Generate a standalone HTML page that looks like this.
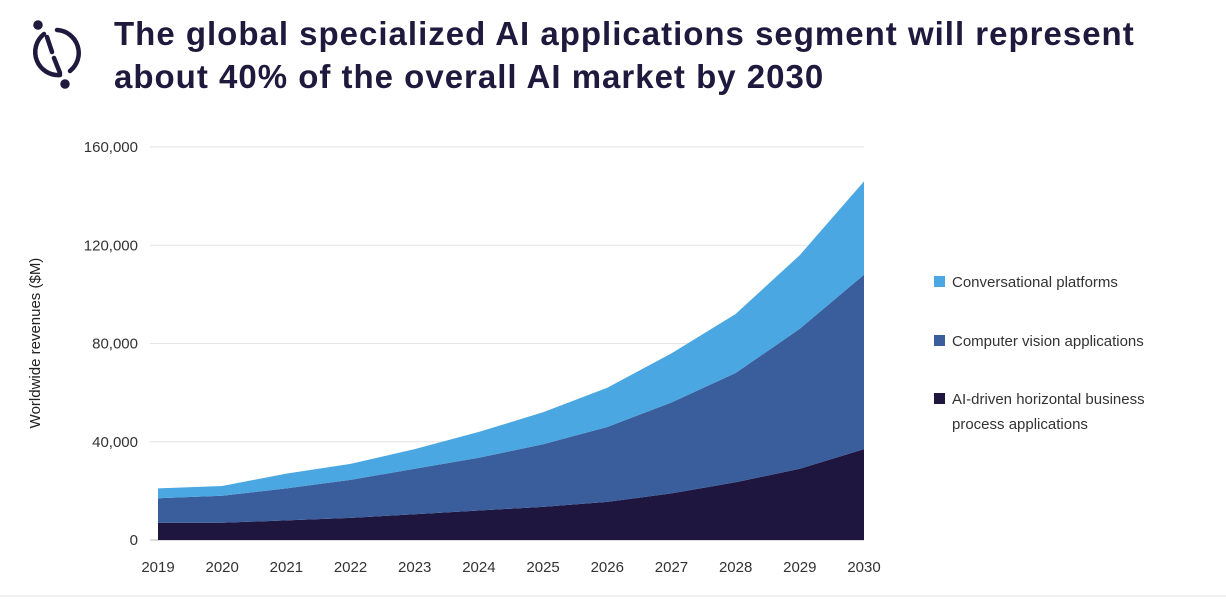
<!DOCTYPE html>
<html><head><meta charset="utf-8"><style>
body{margin:0;width:1226px;height:600px;background:#fff;overflow:hidden;font-family:"Liberation Sans",sans-serif}
#title{position:absolute;left:114px;top:12px;font-size:33px;font-weight:bold;color:#1f1a3d;line-height:43px;letter-spacing:1px}
svg{position:absolute;left:0;top:0}
</style></head><body>
<svg width="1226" height="600">
<g stroke="#1f1a3d" stroke-width="4.5" fill="none" stroke-linecap="round">
<path d="M44 34 A23 23 0 0 0 60 75"/><path d="M57 30 A23 23 0 0 1 70 71"/>
<line x1="47" y1="37" x2="52" y2="52"/><line x1="54" y1="58" x2="60" y2="73"/>
<circle cx="38" cy="25" r="2.5" fill="#1f1a3d"/><circle cx="65" cy="84" r="2.5" fill="#1f1a3d"/>
</g>
<g id="grid"></g><g id="areas"></g><g id="axes"></g>
<text x="40" y="343" transform="rotate(-90 40 343)" text-anchor="middle" font-size="15" fill="#222">Worldwide revenues  ($M)</text>
<g font-size="15" fill="#333">
<rect x="934" y="276" width="11" height="11" fill="#4aa7e2"/>
<text x="952" y="287">Conversational platforms</text>
<rect x="934" y="335" width="11" height="11" fill="#3a5e9c"/>
<text x="952" y="346">Computer vision applications</text>
<rect x="934" y="393" width="11" height="11" fill="#1f1640"/>
<text x="952" y="404">AI-driven horizontal business</text>
<text x="952" y="429">process applications</text>
</g>
<line x1="0" y1="596" x2="1226" y2="596" stroke="#e6e6e6"/>
</svg>
<div id="title">The global specialized AI applications segment will represent<br>about 40% of the overall AI market by 2030</div>
<script>
const years=["2019","2020","2021","2022","2023","2024","2025","2026","2027","2028","2029","2030"];
const horizontal=[7000,7000,8000,9000,10500,12000,13500,15500,19000,23500,29000,37000];
const vision=[10000,11000,13000,15500,18500,21500,25500,30500,37000,44500,57000,71000];
const conversational=[4000,4000,6000,6500,8000,10500,13000,16000,20000,24000,30000,38000];
const yTicks=[0,40000,80000,120000,160000];
const NS="http://www.w3.org/2000/svg";
const X=i=>158+i*(864-158)/(years.length-1);
const Y=v=>540-v*(540-147)/160000;
function el(t,a,p){const e=document.createElementNS(NS,t);for(const k in a)e.setAttribute(k,a[k]);p.appendChild(e);return e;}
const grid=document.getElementById('grid'),areas=document.getElementById('areas'),axes=document.getElementById('axes');
yTicks.forEach(v=>{
 const l=el('line',{x1:150,x2:864,y1:Y(v),y2:Y(v),stroke:v?'#e4e4e4':'#bbb'},grid);
 
 
 const t=el('text',{x:138,y:Y(v)+5,'text-anchor':'end','font-size':15,fill:'#333'},axes);
 t.textContent=v.toLocaleString('en-US');
 
 
});
years.forEach((y,i)=>{
 const t=el('text',{x:X(i),y:572,'text-anchor':'middle','font-size':15,fill:'#333'},axes);
 t.textContent=y;
 
 
});
const series=[[horizontal,'#1f1640','area-horizontal'],[vision,'#3a5e9c','area-vision'],[conversational,'#4aa7e2','area-conversational']];
let base=years.map(()=>0);
series.forEach(([vals,col,name])=>{
 const top=base.map((b,i)=>b+vals[i]);
 let d='M'+top.map((v,i)=>X(i)+','+Y(v)).join(' L');
 for(let i=years.length-1;i>=0;i--)d+=' L'+X(i)+','+Y(base[i]);
 const p=el('path',{d:d+'Z',fill:col},areas);
 
 
 base=top;
});
</script>
</body></html>
